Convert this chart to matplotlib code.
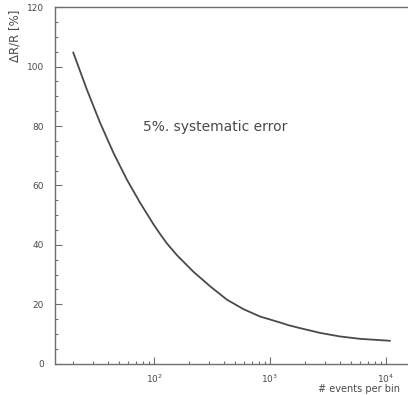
import matplotlib

matplotlib.use("Agg")
import matplotlib.pyplot as plt
from matplotlib.ticker import LogLocator, MultipleLocator, FixedFormatter, FixedLocator

# values
events = [20.1, 26.3, 34.2, 44.6, 58.2, 75.7, 98.6, 113, 129, 157, 218, 304,
          424, 589, 821, 1219, 1439, 1815, 2700, 4010, 5970, 10800]
rel_error = [104.7, 92.3, 81.1, 71.0, 62.0, 54.2, 47.0, 43.6, 40.5, 36.6, 31.0,
             26.1, 21.6, 18.4, 15.9, 13.9, 13.0, 12.0, 10.4, 9.2, 8.4, 7.75]

x_tick_values = [1e2, 1e3, 1e4]
x_tick_labels = ["$10^2$", "$10^3$", "$10^4$"]
y_ticks = [0, 20, 40, 60, 80, 100, 120]

ink = "#4a4a4a"
axis_grey = "#6e6e6e"

fig = plt.figure(figsize=(4.08, 3.95), dpi=100)
ax = fig.add_axes([0.135, 0.079, 0.865, 0.903])

ax.plot(events, rel_error, color=ink, linewidth=1.3)

ax.set_xscale("log")
ax.set_xlim(14.0, 15500)
ax.set_ylim(0, 120)

ax.xaxis.set_major_locator(FixedLocator(x_tick_values))
ax.xaxis.set_major_formatter(FixedFormatter(x_tick_labels))
ax.xaxis.set_minor_locator(LogLocator(base=10, subs=range(2, 10)))
ax.yaxis.set_major_locator(FixedLocator(y_ticks))
ax.yaxis.set_minor_locator(MultipleLocator(5))

ax.tick_params(which="both", direction="in", colors=axis_grey, labelcolor=ink,
               labelsize=6.5, width=0.8)
ax.tick_params(which="major", length=5)
ax.tick_params(which="minor", length=2.5)
ax.tick_params(axis="x", pad=6)
ax.tick_params(axis="y", pad=8)

for side in ["left", "bottom", "top"]:
    ax.spines[side].set_color(axis_grey)
    ax.spines[side].set_linewidth(1.0)
ax.spines["right"].set_visible(False)

ax.set_ylabel("ΔR/R [%]", fontsize=8.5, color=ink)
ax.yaxis.set_label_coords(-0.095, 0.92)

fig.text(0.78, 0.015, "# events per bin", fontsize=7, color=ink, ha="left", va="center")

ax.text(0.249, 0.663, "5%. systematic error", transform=ax.transAxes,
        fontsize=10, color=ink, ha="left", va="center")

fig.savefig("out.png", dpi=100)
